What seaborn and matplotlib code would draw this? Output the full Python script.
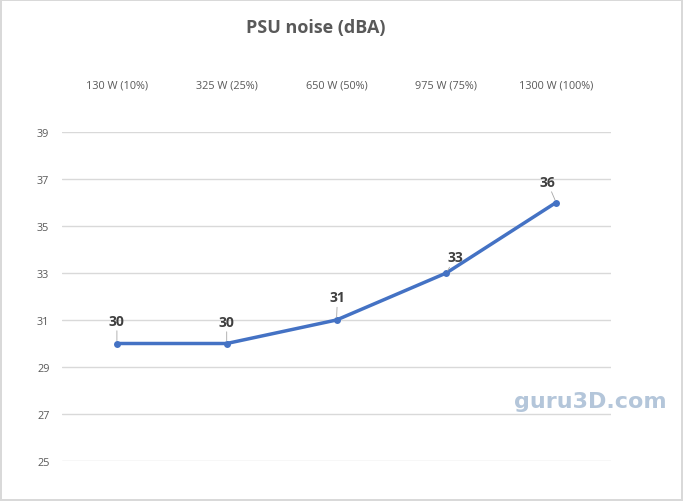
import matplotlib
matplotlib.use("Agg")
import matplotlib.pyplot as plt
import seaborn as sns
import pandas as pd

categories = ["130 W (10%)", "325 W (25%)", "650 W (50%)", "975 W (75%)", "1300 W (100%)"]
noise_dba = [30, 30, 31, 33, 36]
y_ticks = [25, 27, 29, 31, 33, 35, 37, 39]
label_offsets = [(0, 23), (0, 22), (1, 23), (9, 16), (-9, 21)]  # pixel offsets of data labels

sns.set_theme(style="white")
plt.rcParams['font.family'] = ['Open Sans', 'DejaVu Sans']

df = pd.DataFrame({"load": categories, "noise": noise_dba})

fig = plt.figure(figsize=(6.83, 5.02), dpi=100)
fig.patch.set_edgecolor("#d9d9d9")
fig.patch.set_linewidth(1.5)
ax = fig.add_axes([62/683, 1-462/502, (611-62)/683, (462-133)/502])

sns.lineplot(data=df, x="load", y="noise", ax=ax, color="#4472C4", linewidth=2.5,
             marker="o", markersize=5, markeredgewidth=0, sort=False)

ax.set_xlim(-0.5, len(categories)-0.5)
ax.set_ylim(y_ticks[0], y_ticks[-1])
ax.set_yticks(y_ticks)
ax.yaxis.grid(True, color="#d9d9d9", linewidth=1)
ax.xaxis.tick_top()
ax.set_xticks(range(len(categories)))
ax.set_xticklabels(categories)
ax.tick_params(axis="x", length=0, pad=30, labelsize=7.8, labelcolor="#595959")
ax.tick_params(axis="y", length=0, labelsize=7.8, labelcolor="#595959")
for lbl in ax.get_yticklabels():
    lbl.set_horizontalalignment("left")
ax.yaxis.set_tick_params(pad=18)
for s in ax.spines.values():
    s.set_visible(False)
ax.set_xlabel("")
ax.set_ylabel("")

for i, (v, off) in enumerate(zip(noise_dba, label_offsets)):
    ax.annotate(str(v), xy=(i, v), xytext=off, textcoords="offset pixels",
                ha="center", va="center", fontsize=10, fontweight="bold", color="#404040",
                arrowprops=dict(arrowstyle="-", color="#a6a6a6", linewidth=0.6,
                                shrinkA=0, shrinkB=2))

fig.text(316/683, 1-28/502, "PSU noise (dBA)", ha="center", va="center",
         fontsize=13, fontweight="bold", color="#595959")

fig.text(590/683, 1-402/502, "guru3D.com", ha="center", va="center", fontsize=16,
         color="#b4c6da", fontweight="bold", family=["DejaVu Sans"])

fig.savefig("out.png", dpi=100)
